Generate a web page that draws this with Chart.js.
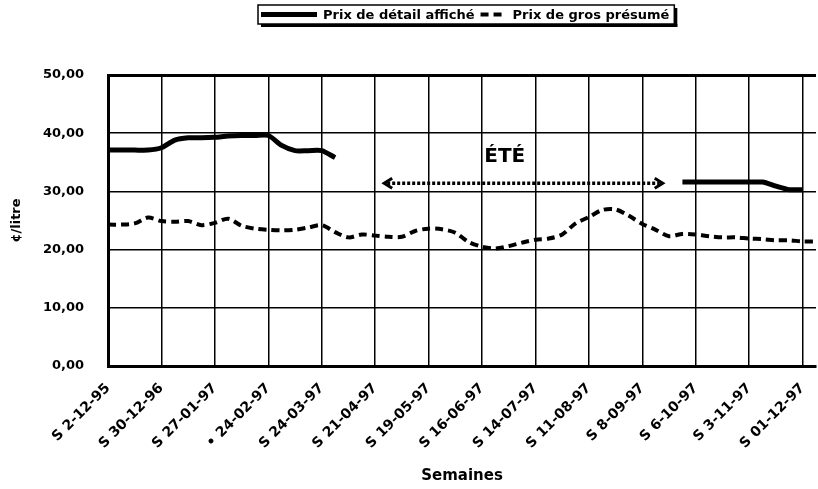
<!DOCTYPE html>
<html>
<head>
<meta charset="utf-8">
<script src="https://cdn.jsdelivr.net/npm/chart.js@4/dist/chart.umd.min.js"></script>
<style>
  html, body { margin: 0; padding: 0; background: #fff; overflow: hidden; }
  canvas { display: block; }
</style>
</head>
<body>
<canvas id="chart" width="818" height="489"></canvas>
<script>
// étiquettes affichées toutes les 4 semaines
const tickLabels = ['S 2-12-95', 'S 30-12-96', 'S 27-01-97', '• 24-02-97', 'S 24-03-97', 'S 21-04-97',
  'S 19-05-97', 'S 16-06-97', 'S 14-07-97', 'S 11-08-97', 'S 8-09-97', 'S 6-10-97', 'S 3-11-97', 'S 01-12-97'];

// prix hebdomadaires en ¢/litre (null = pas de relevé)
const prixDetail = [
  37.1, 37.1, 37.1, 37.1, 37.5, 38.8, 39.2, 39.2, 39.3, 39.5,
  39.6, 39.6, 39.6, 37.9, 37.0, 37.0, 37.0, 35.8, null, null,
  null, null, null, null, null, null, null, null, null, null,
  null, null, null, null, null, null, null, null, null, null,
  null, null, null, 31.6, 31.6, 31.6, 31.6, 31.6, 31.6, 31.6,
  30.9, 30.3, 30.3, null
];

const prixGros = [
  24.3, 24.3, 24.5, 25.5, 24.9, 24.8, 24.9, 24.2, 24.6, 25.3,
  24.1, 23.6, 23.4, 23.3, 23.4, 23.8, 24.2, 23.0, 22.1, 22.6,
  22.4, 22.2, 22.2, 23.2, 23.6, 23.5, 22.9, 21.3, 20.5, 20.2,
  20.6, 21.2, 21.7, 21.9, 22.6, 24.5, 25.6, 26.8, 26.9, 25.8,
  24.4, 23.4, 22.3, 22.7, 22.6, 22.3, 22.1, 22.1, 21.9, 21.8,
  21.6, 21.6, 21.4, 21.4
];

// flèche "ÉTÉ" (en index de semaine et en ¢/litre)
const ete = { text: 'ÉTÉ', from: 20.6, to: 41.6, value: 31.4, textAt: 29.7, textValue: 35.1 };

const weekLabels = prixGros.map((_, i) => (i % 4 === 0 ? tickLabels[i / 4] : ''));

const boldFont = (size) => ({ family: 'DejaVu Sans', weight: 'bold', size });

// flèche pointillée + texte
const etePlugin = {
  id: 'ete',
  afterDatasetsDraw(chart) {
    const { ctx, scales: { x, y } } = chart;
    const x1 = x.getPixelForValue(ete.from);
    const x2 = x.getPixelForValue(ete.to);
    const yy = y.getPixelForValue(ete.value);
    ctx.save();
    ctx.strokeStyle = '#000';
    ctx.lineWidth = 3.5;
    ctx.setLineDash([3, 2]);
    ctx.beginPath();
    ctx.moveTo(x1 + 4, yy);
    ctx.lineTo(x2 - 4, yy);
    ctx.stroke();
    ctx.setLineDash([]);
    ctx.lineWidth = 3;
    ctx.beginPath();
    ctx.moveTo(x1 + 9, yy - 5);
    ctx.lineTo(x1 + 1, yy);
    ctx.lineTo(x1 + 9, yy + 5);
    ctx.moveTo(x2 - 9, yy - 5);
    ctx.lineTo(x2 - 1, yy);
    ctx.lineTo(x2 - 9, yy + 5);
    ctx.stroke();
    ctx.fillStyle = '#000';
    ctx.font = 'bold 20px "DejaVu Sans"';
    ctx.textAlign = 'center';
    ctx.textBaseline = 'alphabetic';
    ctx.fillText(ete.text, x.getPixelForValue(ete.textAt), y.getPixelForValue(ete.textValue));
    ctx.restore();
  }
};

// légende encadrée avec ombre, comme l'original
const legendBox = {
  id: 'legendBox',
  afterDraw(chart) {
    const { ctx } = chart;
    const left = 258, top = 5, h = 19;
    const sampleW = [56, 26];
    const before = [3, 6];
    const cy = top + h / 2;
    ctx.save();
    ctx.font = 'bold 13px "DejaVu Sans"';
    ctx.textBaseline = 'middle';
    ctx.fillStyle = '#000';
    ctx.strokeStyle = '#000';
    let x = left;
    chart.data.datasets.forEach((ds, i) => {
      x += before[i];
      ctx.lineWidth = ds.borderWidth;
      ctx.setLineDash(ds.borderDash || []);
      ctx.beginPath();
      ctx.moveTo(x, cy);
      ctx.lineTo(x + sampleW[i], cy);
      ctx.stroke();
      x += sampleW[i] + 6;
      ctx.fillText(ds.label, x, cy + 1);
      x += ctx.measureText(ds.label).width;
    });
    const w = x + 5 - left;
    ctx.setLineDash([]);
    ctx.fillRect(left + 3, top + h, w, 3);
    ctx.fillRect(left + w, top + 3, 3, h);
    ctx.lineWidth = 1.5;
    ctx.strokeRect(left, top, w, h);
    ctx.restore();
  }
};

new Chart(document.getElementById('chart'), {
  type: 'line',
  data: {
    labels: weekLabels,
    datasets: [
      {
        label: 'Prix de détail affiché',
        data: prixDetail,
        borderColor: '#000',
        borderWidth: 5,
        pointRadius: 0,
        tension: 0.25
      },
      {
        label: 'Prix de gros présumé',
        data: prixGros,
        borderColor: '#000',
        borderWidth: 4,
        borderDash: [8, 5],
        pointRadius: 0,
        tension: 0.3
      }
    ]
  },
  options: {
    responsive: false,
    animation: false,
    layout: { padding: { top: 75, right: 2 } },
    plugins: { legend: { display: false }, tooltip: { enabled: false } },
    scales: {
      x: {
        grid: { color: '#000', lineWidth: 1.5, drawTicks: false },
        border: { color: '#000', width: 3 },
        ticks: {
          autoSkip: false,
          maxRotation: 45,
          minRotation: 45,
          padding: 14,
          color: '#000',
          font: boldFont(14),
          callback: (v, i) => weekLabels[i] || null
        },
        title: { display: true, text: 'Semaines', color: '#000', font: boldFont(15), padding: { top: 0, bottom: 4 } },
        afterFit: (s) => { s.height = 123; s.paddingRight = 0; }
      },
      y: {
        min: 0,
        max: 50,
        grid: { color: '#000', lineWidth: (c) => (c.tick.value === 50 ? 3 : 1.5), drawTicks: false },
        border: { color: '#000', width: 3 },
        ticks: {
          stepSize: 10,
          padding: 24,
          color: '#000',
          font: boldFont(13),
          callback: (v) => v.toFixed(2).replace('.', ',')
        },
        title: { display: true, text: '¢/litre', color: '#000', font: boldFont(13), padding: { top: 9, bottom: 0 } },
        afterFit: (s) => { s.width = 108; }
      }
    }
  },
  plugins: [etePlugin, legendBox]
});
</script>
</body>
</html>
